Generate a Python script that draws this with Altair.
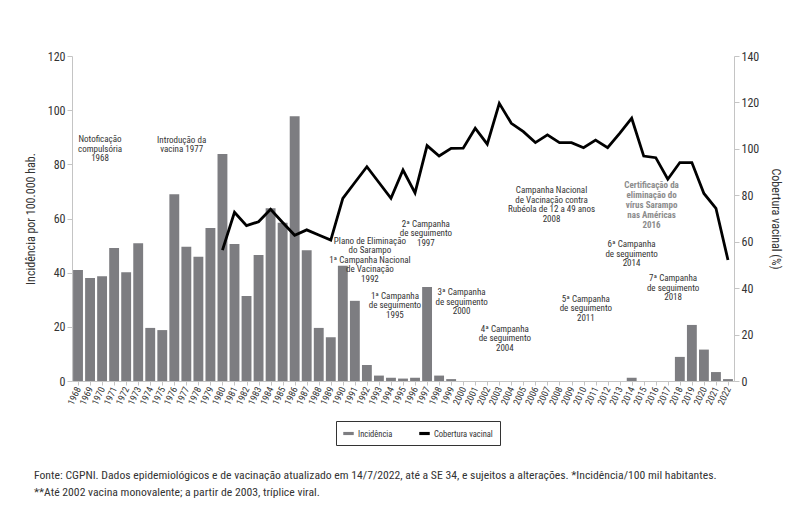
import altair as alt
import pandas as pd

# ---------------- data ----------------
years = list(range(1968, 2023))
incidence = [41.0, 38.0, 38.7, 49.1, 40.2, 50.9, 19.6, 18.8, 69.0, 49.6,
             45.9, 56.5, 83.8, 50.6, 31.4, 46.5, 63.8, 58.4, 97.8, 48.3,
             19.6, 16.2, 42.6, 29.6, 5.9, 2.0, 1.2, 0.9, 1.2, 34.7,
             2.0, 0.7, 0, 0, 0, 0, 0, 0, 0, 0,
             0, 0, 0, 0, 0, 0, 1.2, 0, 0, 0,
             8.9, 20.7, 11.6, 3.3, 0.7]

coverage_years = list(range(1980, 2023))
coverage = [56.4, 72.7, 66.9, 68.6, 74.0, 68.3, 62.8, 65.1, 62.9, 60.7,
            78.7, 85.5, 92.3, 85.5, 78.7, 90.9, 81.0, 101.4, 96.9, 100.2,
            100.3, 108.9, 102.0, 119.6, 111.0, 107.4, 102.7, 106.0, 102.7, 102.7,
            100.5, 103.8, 100.5, 106.7, 113.2, 96.9, 96.2, 86.9, 94.1, 94.1,
            80.8, 74.4, 52.1]

series_names = ["Incidência", "Cobertura vacinal"]

ann_text = [
    "Notoficação\ncompulsória\n1968",
    "Introdução da\nvacina 1977",
    "Plano de Eliminação\ndo Sarampo\n1ª Campanha Nacional\nde Vacinação\n1992",
    "1ª Campanha\nde seguimento\n1995",
    "2ª Campanha\nde seguimento\n1997",
    "3ª Campanha\nde seguimento\n2000",
    "4ª Campanha\nde seguimento\n2004",
    "Campanha Nacional\nde Vacinação contra\nRubéola de 12 a 49 anos\n2008",
    "5ª Campanha\nde seguimento\n2011",
    "6ª Campanha\nde seguimento\n2014",
    "7ª Campanha\nde seguimento\n2018",
]
ann_year = [1969.83, 1976.61, 1992.25, 1994.33, 1996.90, 1999.87, 2003.46,
            2007.34, 2010.19, 2013.99, 2017.44]
ann_level = [90.8, 90.6, 53.2, 32.9, 59.6, 34.2, 20.7, 72.0, 31.8, 51.9, 39.5]

cert_text = ["Certificação da\neliminação do\nvírus Sarampo\nnas Américas\n2016"]
cert_year = [2015.65]
cert_level = [73.7]

footer_text = ["Fonte: CGPNI. Dados epidemiológicos e de vacinação atualizado em 14/7/2022, "
               "até a SE 34, e sujeitos a alterações. *Incidência/100 mil habitantes.\n"
               "**Até 2002 vacina monovalente; a partir de 2003, tríplice viral."]

# ---------------- style ----------------
FONT = "Liberation Sans Narrow, Arial Narrow, Roboto Condensed, DejaVu Sans Condensed, sans-serif"
GRAY = "#7d7d81"
AXIS_GRAY = "#c4c4c4"
TEXT = "#333333"

bars_df = pd.DataFrame({"year": years, "incid": incidence, "series": series_names[0]})
line_df = pd.DataFrame({"year": coverage_years, "cov": coverage})
ann_df = pd.DataFrame({"year": ann_year, "incid": ann_level, "label": ann_text})
cert_df = pd.DataFrame({"year": cert_year, "incid": cert_level, "label": cert_text})
foot_df = pd.DataFrame({"label": footer_text})

x_scale = alt.Scale(domain=[1967.5, 2022.5], nice=False, zero=False)
x_axis = alt.Axis(values=years, format="d", labelAngle=295, labelAlign="right",
                  labelBaseline="middle", labelFontSize=9.5, labelColor=TEXT,
                  labelOverlap=False, labelPadding=2, tickSize=4, tickColor=AXIS_GRAY,
                  domainColor=AXIS_GRAY, grid=False, title=None)
x_enc = alt.X("year:Q", scale=x_scale, axis=x_axis)

y_left = alt.Y("incid:Q", scale=alt.Scale(domain=[0, 120], nice=False),
               axis=alt.Axis(values=[0, 20, 40, 60, 80, 100, 120], title="Incidência por 100.000 hab.",
                             titleFontWeight="normal", titleFontSize=12, titleColor=TEXT,
                             titlePadding=10, labelFontSize=12, labelColor=TEXT,
                             tickSize=5, tickColor=AXIS_GRAY, domainColor=AXIS_GRAY,
                             labelPadding=2, grid=False))

bars = alt.Chart(bars_df).transform_calculate(
    x0="datum.year - 0.41", x1="datum.year + 0.41", base="0"
).mark_bar(stroke=None).encode(
    x=alt.X("x0:Q", scale=x_scale, axis=x_axis),
    x2="x1:Q",
    y=y_left,
    y2="base:Q",
    color=alt.Color("series:N",
                    scale=alt.Scale(domain=series_names, range=[GRAY, "#000000"]),
                    legend=alt.Legend(orient="none", legendX=264, legendY=365,
                                      direction="horizontal", title=None,
                                      strokeColor="#333333", padding=7,
                                      symbolType="M-1,-0.3L1,-0.3L1,0.3L-1,0.3Z",
                                      symbolSize=110, symbolStrokeWidth=0,
                                      labelFontSize=8.5, labelColor=TEXT,
                                      columnPadding=26, labelOffset=4)),
)

anns = alt.Chart(ann_df).mark_text(
    align="center", baseline="top", lineBreak="\n", font=FONT, fontSize=9,
    lineHeight=9.5, color=TEXT
).encode(x=x_enc, y=y_left, text="label:N")

cert = alt.Chart(cert_df).mark_text(
    align="center", baseline="top", lineBreak="\n", font=FONT, fontSize=9,
    fontWeight="bold", lineHeight=9.8, color="#8c8c8c"
).encode(x=x_enc, y=y_left, text="label:N")

footer = alt.Chart(foot_df).mark_text(
    align="left", baseline="top", lineBreak="\n", font=FONT, fontSize=11.7,
    lineHeight=17, color=TEXT
).encode(x=alt.value(-38), y=alt.value(414), text="label:N")

left = alt.layer(bars, anns, cert, footer)

line = alt.Chart(line_df).mark_line(color="#000000", strokeWidth=2.8).encode(
    x=x_enc,
    y=alt.Y("cov:Q", scale=alt.Scale(domain=[0, 140], nice=False),
            axis=alt.Axis(orient="right", values=[0, 20, 40, 60, 80, 100, 120, 140],
                          title="Cobertura vacinal (%)", titleFontWeight="normal",
                          titleFontSize=12, titleColor=TEXT, titlePadding=10,
                          labelFontSize=12, labelColor=TEXT, tickSize=5,
                          tickColor=AXIS_GRAY, domainColor=AXIS_GRAY, labelPadding=2,
                          grid=False)),
)

chart = alt.layer(left, line).resolve_scale(y="independent").properties(
    width=662, height=325,
    padding={"left": 64, "top": 48, "right": 53, "bottom": 135},
    autosize=alt.AutoSizeParams(type="none"),
).configure_view(stroke=None).configure_axis(
    labelFont=FONT, titleFont=FONT
).configure_legend(labelFont=FONT)

chart.save("out.html", embed_options={"renderer": "svg", "actions": False})
